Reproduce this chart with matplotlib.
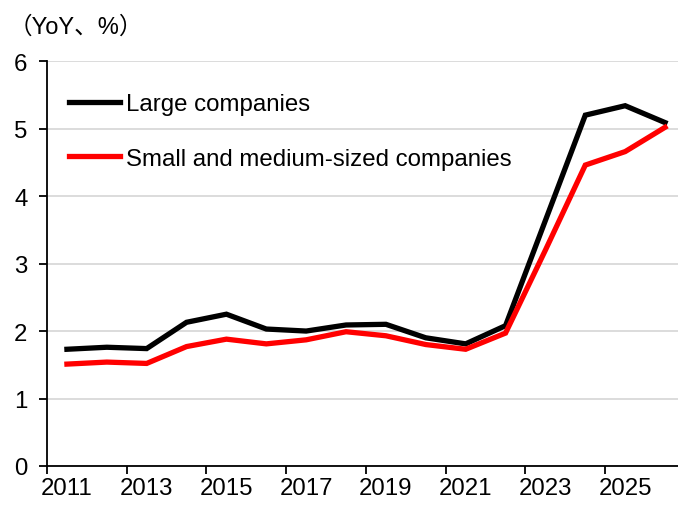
import numpy as np
import matplotlib
matplotlib.use("Agg")
import matplotlib.pyplot as plt

plt.rcParams['font.family'] = ['Liberation Sans', 'Noto Sans CJK JP', 'DejaVu Sans']

years = np.arange(2011, 2027)
large = [1.73, 1.76, 1.74, 2.13, 2.25, 2.03, 2.00, 2.09, 2.10, 1.90, 1.81, 2.08,
         3.64, 5.20, 5.34, 5.09]
small_medium = [1.51, 1.54, 1.52, 1.77, 1.88, 1.81, 1.87, 1.99, 1.93, 1.80, 1.73, 1.97,
                3.20, 4.46, 4.66, 5.02]
series_names = ["Large companies", "Small and medium-sized companies"]
tick_years = [2011, 2013, 2015, 2017, 2019, 2021, 2023, 2025]

fig = plt.figure(figsize=(6.78, 5.06), dpi=100)
ax = fig.add_axes([0.0693, 0.0771, 0.941, 0.800])

ax.plot(years, large, color='black', lw=3.8, solid_joinstyle='miter', label=series_names[0], zorder=3)
ax.plot(years, small_medium, color='#ff0000', lw=3.8, solid_joinstyle='miter', label=series_names[1], zorder=3)

ax.set_xlim(2010.5, 2026.5)
ax.set_ylim(0, 6)
ax.set_yticks(range(0, 7))
ax.yaxis.grid(True, color='#d9d9d9', lw=1.3)
ax.set_axisbelow(True)

ax.set_xticks(tick_years)
ax.set_xticklabels([str(y) for y in tick_years])
ax.set_xticks(np.arange(2010.5, 2026, 2), minor=True)
ax.tick_params(axis='x', which='major', length=0, labelsize=17.3, pad=8)
ax.tick_params(axis='x', which='minor', length=6, width=1.3, direction='out')
ax.tick_params(axis='y', length=6, width=1.3, direction='out', labelsize=17.3, pad=8)

for s in ['top', 'right']:
    ax.spines[s].set_visible(False)
for s in ['left', 'bottom']:
    ax.spines[s].set_linewidth(1.3)

ax.legend(loc='upper left', bbox_to_anchor=(0.02, 0.945), frameon=False, fontsize=17.3,
          handlelength=2.1, handletextpad=0.25, labelspacing=1.35, borderaxespad=0)

fig.text(0.012, 0.945, "（YoY、%）", fontsize=17, ha='left', va='center')

fig.savefig("out.png", dpi=100)
